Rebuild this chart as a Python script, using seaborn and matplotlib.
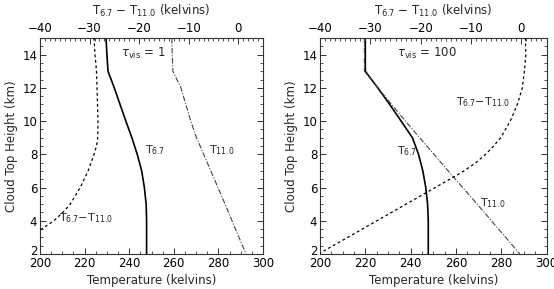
import numpy as np
import pandas as pd
import matplotlib
matplotlib.use("Agg")
import matplotlib.pyplot as plt
import matplotlib.transforms as mtransforms
from matplotlib.ticker import MultipleLocator
import seaborn as sns

sns.set_style("white")
plt.rcParams['font.family'] = ['DejaVu Sans']
plt.rcParams['mathtext.default'] = 'regular'
plt.rcParams['mathtext.fontset'] = 'dejavusans'

# ---------------- data ----------------
heights = [15, 14, 13, 12, 11, 10, 9, 8, 7, 6, 5, 4, 3, 2]

# tau_vis = 1
t67_tau1 = [229.6, 230.0, 230.5, 233.3, 235.9, 238.5, 241.2, 243.6, 245.6, 246.8, 247.6, 247.8, 247.8, 247.8]
t11_tau1 = [259.1, 259.3, 259.6, 263.2, 265.4, 267.6, 270.2, 273.4, 276.6, 279.8, 283.0, 286.1, 289.2, 292.4]
diff_heights_tau1 = [15, 14, 13, 12, 11, 10, 9, 8.5, 8, 7, 6, 5, 4.5, 4, 3.4]
diff_tau1 = [-29.1, -28.9, -28.6, -28.5, -28.4, -28.3, -28.35, -28.6, -29.1, -30.3, -31.9, -33.9, -35.4, -37.2, -40.2]

# tau_vis = 100
t67_tau100 = [220.0, 220.0, 220.0, 225.5, 230.8, 235.8, 240.8, 243.5, 245.4, 246.7, 247.5, 247.8, 247.8, 247.8]
t11_tau100 = [219.6, 219.6, 219.6, 225.6, 231.6, 237.7, 244.0, 250.3, 256.6, 263.0, 269.4, 275.7, 282.0, 288.2]
diff_heights_tau100 = [15, 14, 13, 12, 11, 10, 9, 8.5, 8, 7.5, 7, 6.5, 6, 5.5, 5, 4, 3, 2]
diff_tau100 = [0.8, 0.9, 0.6, 0.2, -0.8, -2.2, -4.1, -5.5, -7.1, -9.0, -11.4, -14.2, -17.1,
               -20.0, -22.9, -28.7, -34.5, -40.3]

tau_values = ["1", "100"]
x_ticks_bottom = [200, 220, 240, 260, 280, 300]
x_ticks_top = [-40, -30, -20, -10, 0]
y_ticks = [2, 4, 6, 8, 10, 12, 14]

# label positions (data coords, bottom axis)
label_pos = [
    {"tau": (236.4, 14.1), "t67": (247.1, 8.25), "t11": (275.8, 8.25), "diff": (208.7, 4.17)},
    {"tau": (233.9, 14.1), "t67": (234.2, 8.2), "t11": (270.6, 5.04), "diff": (260.0, 11.15)},
]

panels = [
    (t67_tau1, t11_tau1, diff_heights_tau1, diff_tau1),
    (t67_tau100, t11_tau100, diff_heights_tau100, diff_tau100),
]

fig = plt.figure(figsize=(5.54, 2.89), dpi=100)
ax_rects = [
    [40 / 554, 35 / 289, 223 / 554, 216 / 289],
    [320 / 554, 35 / 289, 226.5 / 554, 216 / 289],
]

FS = 8.5
frame_col = '#333333'

for i, (t67, t11, dh, dv) in enumerate(panels):
    ax = fig.add_axes(ax_rects[i])
    df = pd.DataFrame({"h": heights, "t67": t67, "t11": t11})
    sns.lineplot(data=df, x="t67", y="h", sort=False, estimator=None, ax=ax,
                 color='black', lw=1.2, legend=False)
    sns.lineplot(data=df, x="t11", y="h", sort=False, estimator=None, ax=ax,
                 color='#444444', lw=0.8, linestyle=(0, (5, 1.5, 1, 1.5)), legend=False)
    ax.set_xlim(200, 300)
    ax.set_ylim(2, 15)
    ax.set_xticks(x_ticks_bottom)
    ax.set_yticks(y_ticks)
    ax.xaxis.set_minor_locator(MultipleLocator(5))
    ax.yaxis.set_minor_locator(MultipleLocator(0.5))
    ax.tick_params(which='both', direction='in', top=False, right=True, left=True, bottom=True,
                   labelsize=FS, colors=frame_col, labelcolor='black')
    ax.tick_params(which='major', length=4, width=0.7, pad=2)
    ax.tick_params(which='minor', length=2, width=0.6)
    for s in ax.spines.values():
        s.set_linewidth(0.8)
        s.set_color(frame_col)
    ax.set_xlabel("Temperature (kelvins)", fontsize=FS, labelpad=3)
    ax.set_ylabel("Cloud Top Height (km)", fontsize=FS, labelpad=3)

    # lift the lowest y tick label a little (as in the reference)
    fig.canvas.draw()
    ylabs = ax.get_yticklabels()
    off = mtransforms.ScaledTranslation(0, 4 / 100, fig.dpi_scale_trans)
    ylabs[0].set_transform(ylabs[0].get_transform() + off)

    ax2 = ax.twiny()
    dd = pd.DataFrame({"h": dh, "d": dv})
    sns.lineplot(data=dd, x="d", y="h", sort=False, estimator=None, ax=ax2,
                 color='black', lw=0.9, linestyle=(0, (2.2, 2.2)), legend=False)
    ax2.set_xlim(-40, 5)
    ax2.set_ylim(2, 15)
    ax2.set_xticks(x_ticks_top)
    ax2.set_xticklabels([f"{v}".replace('-', '\u2212') for v in x_ticks_top])
    ax2.xaxis.set_minor_locator(MultipleLocator(1))
    ax2.tick_params(which='both', direction='in', labelsize=FS, colors=frame_col, labelcolor='black')
    ax2.tick_params(which='major', length=4, width=0.7, pad=2)
    ax2.tick_params(which='minor', length=2, width=0.6)
    ax2.set_xlabel("T$_{6.7}$ \u2212 T$_{11.0}$ (kelvins)", fontsize=FS, labelpad=5)
    for s in ax2.spines.values():
        s.set_visible(False)

    lp = label_pos[i]
    ax.text(*lp["tau"], r"$\mathit{\tau}_{vis}$ = " + tau_values[i], fontsize=FS,
            ha='left', va='center')
    ax.text(*lp["t67"], "T$_{6.7}$", fontsize=FS - 0.5, ha='left', va='center')
    ax.text(*lp["t11"], "T$_{11.0}$", fontsize=FS - 0.5, ha='left', va='center')
    ax.text(*lp["diff"], "T$_{6.7}$\u2212T$_{11.0}$", fontsize=FS - 0.5, ha='left', va='center')

fig.savefig("out.png", dpi=100)
